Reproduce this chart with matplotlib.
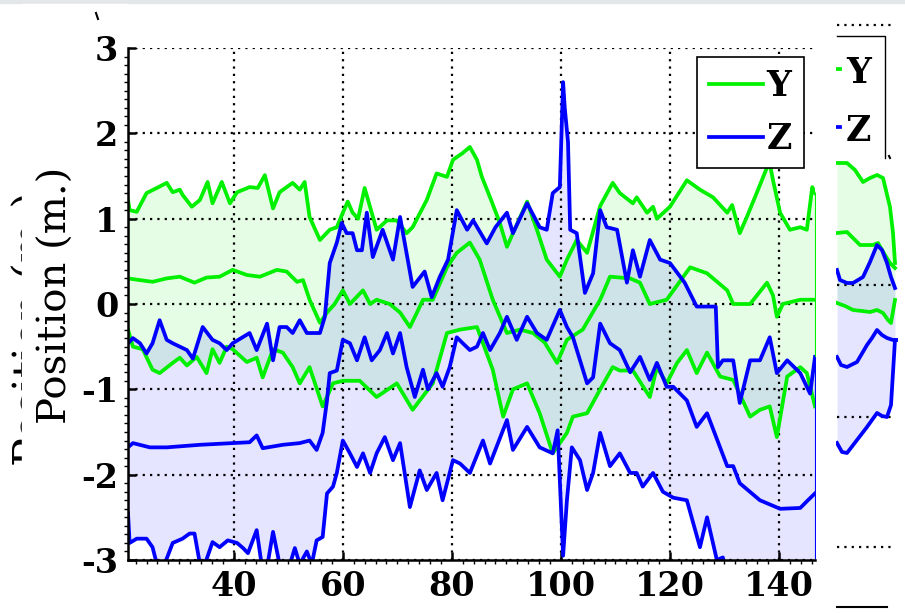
import matplotlib
matplotlib.use('Agg')
import matplotlib.pyplot as plt
from matplotlib.lines import Line2D
from matplotlib.patches import Rectangle
import numpy as np

# ---- main chart data (time in s, position in m) ----
y_up_t = [20.6, 20.9, 22.2, 24.0, 25.9, 27.7, 28.8, 30.1, 30.6, 32.3, 33.8, 35.2, 36.1, 37.8,
          39.3, 40.6, 42.9, 44.4, 45.7, 47.2, 48.4, 50.8, 52.1, 53.0, 53.9, 55.8, 57.6, 58.9,
          60.0, 60.9, 61.8, 62.8, 64.0, 65.3, 66.2, 68.1, 69.9, 71.7, 72.8, 75.4, 77.2, 79.1,
          80.2, 82.0, 83.3, 84.6, 85.5, 87.0, 88.8, 90.1, 91.2, 93.8, 95.6, 97.4, 99.8, 101.1,
          102.9, 104.8, 107.2, 109.5, 110.8, 113.2, 113.9, 115.8, 116.9, 117.6, 120.0, 123.1,
          125.5, 127.9, 130.5, 131.4, 132.8, 134.1, 135.9, 137.8, 138.3, 138.9, 140.2, 142.0,
          143.9, 145.1, 146.1, 146.6]
y_up = [1.22, 1.10, 1.08, 1.30, 1.36, 1.42, 1.31, 1.34, 1.28, 1.14, 1.22, 1.43, 1.18, 1.43,
        1.18, 1.31, 1.37, 1.36, 1.51, 1.12, 1.31, 1.42, 1.34, 1.43, 1.02, 0.75, 0.87, 0.90,
        1.07, 1.20, 1.07, 1.00, 1.36, 1.07, 0.87, 0.98, 0.98, 0.83, 0.90, 1.22, 1.53, 1.49,
        1.69, 1.77, 1.84, 1.69, 1.49, 1.25, 0.95, 0.67, 0.83, 1.20, 0.87, 0.52, 0.32, 0.52,
        0.75, 0.60, 1.15, 1.42, 1.30, 1.18, 1.25, 1.07, 1.14, 1.00, 1.14, 1.45,
        1.34, 1.25, 1.07, 1.16, 0.83, 1.02, 1.30, 1.60, 1.65, 1.45, 1.07, 0.87,
        0.90, 0.87, 1.37, 1.30]

y_mid_t = [20.6, 22.8, 25.1, 27.7, 30.1, 32.8, 35.0, 37.4, 39.8, 42.4, 44.8, 47.9, 49.7, 51.6,
           52.7, 53.9, 55.8, 57.1, 58.5, 60.0, 61.3, 63.7, 65.0, 66.2, 68.6, 70.5, 72.3, 73.6,
           74.7, 76.5, 79.1, 80.9, 83.3, 85.1, 87.5, 90.1, 92.5, 94.9, 97.0, 99.3, 101.1, 104.0,
           107.2, 109.0, 112.7, 114.5, 116.3, 119.4, 123.7, 126.8, 130.5, 131.6, 134.7, 137.8,
           138.9, 139.6, 140.7, 143.9, 146.6]
y_mid = [0.30, 0.28, 0.26, 0.30, 0.32, 0.25, 0.31, 0.32, 0.40, 0.34, 0.32, 0.40, 0.38, 0.26,
         0.28, 0.05, -0.22, -0.10, 0.00, 0.16, 0.00, 0.16, 0.00, 0.05, 0.00, -0.10, -0.27, -0.10,
         0.05, 0.05, 0.43, 0.60, 0.72, 0.52, 0.05, -0.34, -0.30, -0.34, -0.45, -0.69, -0.42, -0.30,
         0.05, 0.32, 0.30, 0.25, 0.00, 0.05, 0.43, 0.36, 0.16, 0.00, 0.00, 0.25,
         0.10, -0.15, 0.00, 0.05, 0.05]

y_lo_t = [20.6, 21.5, 23.3, 25.1, 26.4, 28.8, 30.1, 31.4, 33.2, 35.0, 36.1, 37.4, 38.7, 39.8,
          42.4, 44.2, 45.3, 47.2, 49.0, 50.8, 52.1, 53.9, 56.3, 58.2, 60.0, 63.1, 66.2, 69.9,
          72.8, 76.5, 79.1, 81.5, 84.6, 87.5, 89.4, 91.2, 93.8, 96.1, 98.5, 101.1, 102.2, 104.8,
          107.2, 109.5, 110.8, 113.2, 116.3, 117.6, 119.4, 121.3, 123.1, 124.9, 126.8, 129.2,
          131.6, 134.7, 136.5, 138.3, 139.6, 141.5, 143.9, 145.1, 146.6]
y_lo = [-0.30, -0.50, -0.53, -0.77, -0.81, -0.69, -0.63, -0.72, -0.62, -0.81, -0.53, -0.69, -0.50, -0.53,
        -0.68, -0.63, -0.86, -0.53, -0.57, -0.74, -0.93, -0.74, -1.20, -0.93, -0.90, -0.90, -1.09, -0.93,
        -1.24, -0.93, -0.34, -0.30, -0.27, -0.77, -1.32, -1.00, -0.93, -1.28, -1.75, -1.51, -1.32, -1.28,
        -1.00, -0.74, -0.78, -0.78, -1.09, -0.74, -0.93, -0.69, -0.54, -0.81, -0.57, -0.85,
        -0.89, -1.32, -1.24, -1.20, -1.56, -0.85, -0.74, -0.81, -1.20]

z_up_t = [20.6, 21.5, 22.8, 24.0, 25.1, 26.4, 27.7, 28.8, 31.4, 32.5, 34.3, 36.1, 37.4, 38.7,
          39.8, 42.9, 44.2, 46.1, 47.2, 48.4, 49.7, 50.8, 52.1, 53.4, 55.8, 56.7, 57.6, 58.9,
          59.8, 60.7, 61.8, 62.6, 63.5, 64.4, 65.5, 67.3, 69.2, 70.5, 72.8, 75.0, 76.3, 77.8,
          79.3, 80.9, 82.8, 83.9, 86.4, 88.0, 90.1, 91.2, 93.8, 96.1, 97.4, 98.5, 99.8, 100.4,
          100.7, 101.3, 101.7, 102.9, 104.4, 105.9, 107.2, 108.4, 110.3, 112.1, 113.2, 114.5,
          116.3, 118.2, 120.0, 122.7, 124.9, 128.4, 128.8, 129.7, 131.6, 132.8, 134.7, 136.5,
          138.3, 139.6, 141.5, 143.9, 145.7, 146.6]
z_up = [-0.46, -0.40, -0.46, -0.58, -0.46, -0.19, -0.42, -0.46, -0.54, -0.64, -0.27, -0.42, -0.46, -0.54,
        -0.46, -0.34, -0.54, -0.23, -0.66, -0.27, -0.27, -0.34, -0.19, -0.34, -0.34, -0.15, 0.48, 0.72,
        0.95, 0.83, 0.83, 0.63, 0.63, 1.07, 0.55, 0.87, 0.52, 1.02, 0.20, 0.38, 0.08, 0.32,
        0.52, 1.10, 0.87, 0.98, 0.71, 0.90, 1.07, 0.83, 1.18, 0.90, 0.87, 1.30, 1.37, 2.60,
        2.30, 1.90, 0.87, 0.83, 0.13, 0.36, 1.10, 0.90, 0.87, 0.25, 0.63, 0.32,
        0.75, 0.52, 0.48, 0.25, -0.03, -0.03, -0.74, -0.66, -0.66, -1.16, -0.66, -0.66,
        -0.39, -0.81, -0.66, -0.81, -1.05, -0.62]

z_mid_t = [20.6, 21.5, 24.6, 27.7, 33.8, 39.8, 42.9, 44.2, 45.3, 49.0, 52.1, 53.9, 55.2, 56.3,
           57.1, 57.6, 58.9, 60.0, 61.3, 62.6, 64.0, 65.3, 66.8, 68.1, 69.2, 70.5, 71.7, 73.2,
           74.7, 75.6, 77.2, 78.3, 79.6, 80.9, 82.0, 83.3, 84.6, 85.7, 87.0, 88.8, 90.1, 91.9,
           93.8, 95.6, 97.4, 99.8, 101.1, 102.2, 104.8, 105.9, 107.2, 109.0, 110.8, 112.7,
           114.5, 116.3, 117.6, 119.4, 120.6, 123.1, 124.9, 126.8, 130.5, 131.6, 132.8, 136.5,
           140.2, 143.9, 145.3, 146.6]
z_mid = [-1.68, -1.63, -1.68, -1.68, -1.65, -1.63, -1.62, -1.54, -1.69, -1.65, -1.63, -1.60, -1.71, -1.51,
         -1.13, -0.81, -0.78, -0.42, -0.46, -0.66, -0.39, -0.66, -0.54, -0.34, -0.58, -0.34, -0.74, -1.09,
         -0.77, -1.00, -0.81, -0.97, -0.74, -0.39, -0.46, -0.54, -0.50, -0.34, -0.54, -0.34, -0.15, -0.42,
         -0.15, -0.34, -0.42, -0.07, -0.27, -0.39, -0.93, -0.86, -0.23, -0.46, -0.54, -0.80,
         -0.62, -0.89, -0.69, -0.97, -0.97, -1.13, -1.44, -1.28, -1.90, -1.90, -2.10, -2.30,
         -2.40, -2.39, -2.30, -2.22]

z_lo_t = [20.6, 20.9, 22.2, 24.0, 25.1, 25.9, 27.3, 28.8, 30.6, 31.9, 32.8, 33.8, 34.7, 36.1,
          37.4, 38.9, 40.6, 41.7, 42.6, 44.2, 45.1, 46.2, 47.2, 48.4, 50.3, 51.2, 52.1, 53.4,
          54.3, 55.2, 56.3, 57.1, 58.2, 58.9, 60.0, 61.3, 62.6, 63.7, 65.0, 66.2, 67.7, 69.2,
          70.5, 72.3, 74.1, 75.4, 77.2, 78.3, 80.2, 81.5, 83.3, 85.7, 87.0, 90.1, 91.2, 93.8,
          96.1, 98.5, 99.4, 100.4, 101.1, 102.0, 103.5, 104.8, 105.9, 107.2, 109.0, 110.8,
          112.7, 113.9, 115.0, 116.9, 118.7, 120.6, 123.1, 125.5, 126.8, 128.6, 129.7, 131.0,
          136.5, 146.6]
z_lo = [-2.45, -2.80, -2.75, -2.75, -2.85, -3.05, -3.05, -2.80, -2.75, -2.69, -2.69, -3.05, -3.05, -2.79,
        -2.85, -2.77, -2.80, -2.86, -2.92, -2.65, -3.05, -3.05, -2.67, -3.05, -3.05, -2.86, -3.05, -2.90,
        -3.05, -2.77, -2.73, -2.22, -2.14, -1.98, -1.60, -1.75, -1.91, -1.75, -1.98, -1.75, -1.56, -1.83,
        -1.63, -2.38, -1.95, -2.18, -1.98, -2.30, -1.83, -1.87, -1.98, -1.60, -1.87, -1.36, -1.71, -1.44,
        -1.68, -1.75, -1.48, -2.95, -2.30, -1.68, -1.83, -2.18, -1.98, -1.51, -1.90, -1.75,
        -1.98, -1.98, -2.14, -1.98, -2.20, -2.27, -2.30, -2.85, -2.50, -3.00, -2.97, -3.30,
        -3.50, -3.50]

x_ticks = [40, 60, 80, 100, 120, 140]
y_ticks = [-3, -2, -1, 0, 1, 2, 3]
series_names = ['Y', 'Z']
series_colors = ['#00f000', '#0000ff']

# ---- right-hand fragment of a second copy (figure pixels) ----
r_gu_x = [837, 847, 855, 863, 870, 877, 883, 890, 893, 895]
r_gu_y = [163, 163, 170, 182, 178, 175, 178, 207, 233, 263]
r_gm_x = [837, 847, 860, 873, 878, 885, 890, 895]
r_gm_y = [233, 232, 245, 245, 243, 255, 263, 268]
r_gl_x = [837, 845, 853, 862, 870, 877, 883, 888, 891, 895]
r_gl_y = [303, 306, 310, 311, 312, 310, 313, 320, 323, 300]
r_bu_x = [837, 840, 847, 853, 863, 870, 877, 882, 887, 891, 895]
r_bu_y = [270, 280, 283, 283, 277, 262, 245, 250, 263, 277, 288]
r_bm_x = [837, 841, 847, 857, 867, 872, 877, 882, 887, 893, 897]
r_bm_y = [357, 365, 367, 362, 345, 338, 330, 335, 338, 340, 340]
r_bl_x = [837, 842, 847, 857, 867, 872, 877, 882, 887, 891, 895]
r_bl_y = [443, 452, 453, 440, 427, 420, 413, 416, 417, 405, 340]
r_grid_y = [25, 285, 417, 547]


def band(t_a, v_a, t_b, v_b):
    # put both bounds on a shared time base so the band edges follow the lines
    t = np.union1d(t_a, t_b)
    return t, np.interp(t, t_a, v_a), np.interp(t, t_b, v_b)


plt.rcParams['font.family'] = ['DejaVu Serif']

W, H = 905, 613
fig = plt.figure(figsize=(W / 100, H / 100), dpi=100)

# thin grey strip at the very top of the screenshot
fig.add_artist(Rectangle((0, 1 - 3 / H), 1, 3 / H, transform=fig.transFigure,
                         color='#e4e7e8', zorder=0))

ax = fig.add_axes([128 / W, 1 - 560 / H, 687 / W, 512 / H])
ax.set_zorder(1)
grn, blu = series_colors
lw = 2.7

t, a, b = band(y_up_t, y_up, y_lo_t, y_lo)
ax.fill_between(t, b, a, facecolor=(0, 0.94, 0, 0.1), edgecolor=grn, lw=0.8)
t, a, b = band(z_up_t, z_up, z_lo_t, z_lo)
ax.fill_between(t, b, a, facecolor=(0, 0, 1, 0.1), edgecolor=blu, lw=0.8)

for t, v in [(y_up_t, y_up), (y_mid_t, y_mid), (y_lo_t, y_lo)]:
    ax.plot(t, v, color=grn, lw=lw)
for t, v in [(z_up_t, z_up), (z_mid_t, z_mid), (z_lo_t, z_lo)]:
    ax.plot(t, v, color=blu, lw=lw)

ax.set_xlim(20.6, 146.6)
ax.set_ylim(-3, 3)
ax.set_xticks(x_ticks)
ax.set_yticks(y_ticks)
ax.set_xticks(np.arange(22, 147, 2), minor=True)
ax.set_yticks(np.arange(-3, 3.01, 0.1), minor=True)
ax.grid(True, which='major', color='k', linestyle=(0, (1, 2.3)), linewidth=1.6)
for s in ['top', 'right']:
    ax.spines[s].set_visible(False)
for s in ['left', 'bottom']:
    ax.spines[s].set_linewidth(1.8)
ax.tick_params(which='major', direction='in', length=6, width=1.8, labelsize=24, pad=7)
ax.tick_params(which='minor', direction='out', length=3, width=1.0)
ax.set_yticklabels([str(v) for v in y_ticks], fontweight='bold')
ax.set_xticklabels([str(v) for v in x_ticks], fontweight='bold')

handles = [Line2D([], [], color=c, lw=lw) for c in series_colors]
leg = ax.legend(handles, series_names, loc='upper left',
                bbox_to_anchor=(697 / W, 1 - 57 / H), bbox_transform=fig.transFigure,
                borderaxespad=0, fancybox=False, framealpha=1, edgecolor='k',
                prop={'size': 25, 'weight': 'bold'}, handlelength=1.55,
                handletextpad=0.1, labelspacing=0.55, borderpad=0.35)
leg.get_frame().set_linewidth(1.2)

# ghost label of a copy behind, mostly covered
fig.text(11 / W, 1 - 328 / H, 'Position (m.)', rotation=90, fontsize=31,
         ha='left', va='center', zorder=0.5)
fig.add_artist(Rectangle((22 / W, 0), 105 / W, 1 - 4 / H, transform=fig.transFigure,
                         color='white', zorder=0.8))
fig.text(56 / W, 1 - 295 / H, 'Position (m.)', rotation=90, fontsize=29,
         ha='center', va='center', zorder=2)
fig.add_artist(Line2D([96 / W, 98 / W], [1 - 13 / H, 1 - 19 / H],
                      transform=fig.transFigure, color='k', lw=1.5))

# right fragment
ax2 = fig.add_axes([836 / W, 0, 62 / W, 1 - 4 / H])
ax2.set_zorder(1)
ax2.set_xlim(836, 898)
ax2.set_ylim(613, 4)
ax2.axis('off')
t, a, b = band(r_gu_x, r_gu_y, r_gl_x, r_gl_y)
ax2.fill_between(t, a, b, color=grn, alpha=0.1, lw=0)
t, a, b = band(r_bu_x, r_bu_y, r_bl_x, r_bl_y)
ax2.fill_between(t, a, b, color=blu, alpha=0.1, lw=0)
for gy in r_grid_y:
    ax2.plot([837, 892], [gy, gy], color='k', linestyle=(0, (1, 2.3)), lw=1.6)
for xs, ys in [(r_gu_x, r_gu_y), (r_gm_x, r_gm_y), (r_gl_x, r_gl_y)]:
    ax2.plot(xs, ys, color=grn, lw=lw)
for xs, ys in [(r_bu_x, r_bu_y), (r_bm_x, r_bm_y), (r_bl_x, r_bl_y)]:
    ax2.plot(xs, ys, color=blu, lw=lw)
ax2.plot([837, 885, 885], [36, 36, 158], color='k', lw=1.0)
ax2.plot([889, 890], [156, 158], color='k', lw=1.5)
ax2.plot([837, 840], [69, 69], color=grn, lw=lw)
ax2.plot([837, 840], [127, 127], color=blu, lw=lw)
ax2.text(846, 73, 'Y', fontsize=25, fontweight='bold', va='center', ha='left')
ax2.text(846, 131, 'Z', fontsize=25, fontweight='bold', va='center', ha='left')
ax2.plot([837, 887], [607, 607], color='k', lw=1.5)

fig.savefig('out.png', dpi=100)
